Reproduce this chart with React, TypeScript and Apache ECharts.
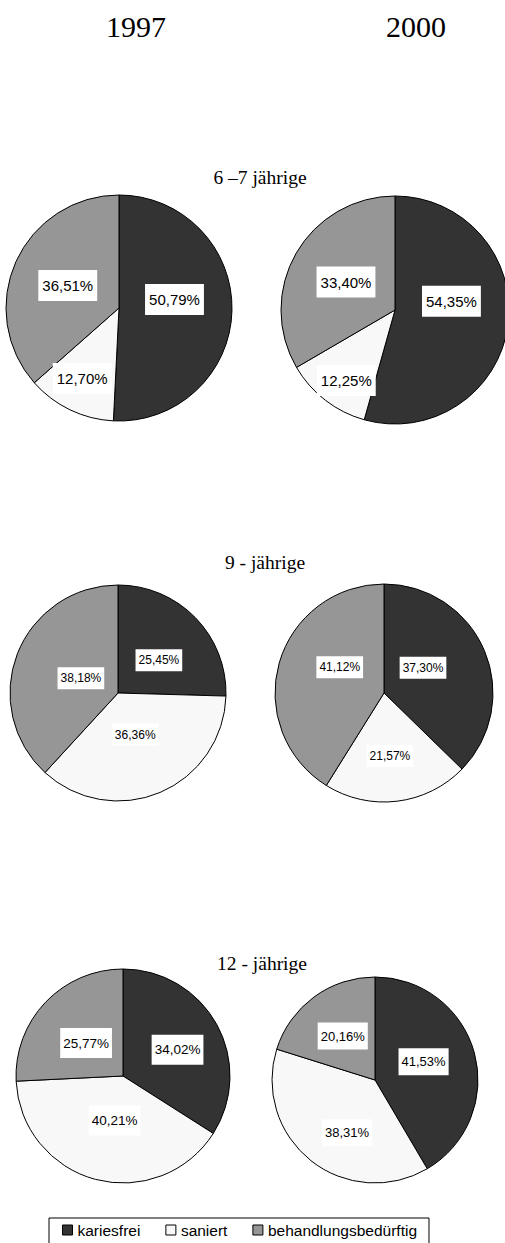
import React, { useEffect, useRef } from "react";
import * as echarts from "echarts";

const categories = ["kariesfrei", "saniert", "behandlungsbedürftig"];
const years = ["1997", "2000"];
const groups = ["6 –7 jährige", "9 - jährige", "12 - jährige"];
const values67_1997 = [50.79, 12.7, 36.51];
const values67_2000 = [54.35, 12.25, 33.4];
const values9_1997 = [25.45, 36.36, 38.18];
const values9_2000 = [37.3, 21.57, 41.12];
const values12_1997 = [34.02, 40.21, 25.77];
const values12_2000 = [41.53, 38.31, 20.16];

const colors = ["#333333", "#f8f8f8", "#969696"];
const SERIF = "'Times New Roman', 'Liberation Serif', serif";
const SANS = "Arial, 'Liberation Sans', sans-serif";

// layout: centre, radius, label font size, label padding, label nudges (dx, dy per slice)
const pieLayouts = [
  { values: values67_1997, center: [119, 308], r: 113, fs: 15, pad: [8, 4], nudge: [[-4, -10], [-11, 17], [3, 2]] },
  { values: values67_2000, center: [395, 310], r: 114, fs: 15, pad: [8, 4], nudge: [[-3, -17], [-12, 23], [3, 2]] },
  { values: values9_1997, center: [118, 693], r: 108, fs: 12, pad: [5, 3], nudge: [[0, 7], [-5, -11], [16, 6]] },
  { values: values9_2000, center: [384, 693], r: 109, fs: 12, pad: [5, 3], nudge: [[-14, -3], [-1, 6], [11, -10]] },
  { values: values12_1997, center: [123, 1076], r: 107, fs: 13.5, pad: [8, 3], nudge: [[5, 1], [6, -10], [4, 6]] },
  { values: values12_2000, center: [375, 1080], r: 103, fs: 13, pad: [7, 3], nudge: [[-4, -4], [6, 10], [0, 0]] },
];

const yearPos = [
  [136, 26],
  [416, 26],
];
const groupPos = [
  [260, 177],
  [265, 562],
  [262, 963],
];

function fmt(v: number) {
  return v.toFixed(2).replace(".", ",") + "%";
}

export default function App() {
  const ref = useRef<HTMLDivElement>(null);
  useEffect(() => {
    document.body.style.margin = "0";
    if (!ref.current) return;
    const chart = echarts.init(ref.current, undefined, { renderer: "svg" });
    const series = pieLayouts.map((p) => ({
      type: "pie",
      center: p.center,
      radius: p.r,
      startAngle: 90,
      clockwise: true,
      silent: true,
      emphasis: { disabled: true },
      itemStyle: { borderColor: "#000", borderWidth: 1 },
      label: {
        show: true,
        position: "inside",
        formatter: (d: any) => fmt(d.value),
        backgroundColor: "#ffffff",
        color: "#000",
        fontFamily: SANS,
        fontSize: p.fs,
        padding: p.pad,
      },
      labelLayout: (params: any) => {
        const n = p.nudge[params.dataIndex] || [0, 0];
        return { dx: n[0], dy: n[1] };
      },
      labelLine: { show: false },
      data: categories.map((c, i) => ({
        name: c,
        value: p.values[i],
        itemStyle: { color: colors[i] },
      })),
    }));
    const graphics: any[] = [];
    years.forEach((y, i) => {
      graphics.push({
        type: "text",
        x: yearPos[i][0],
        y: yearPos[i][1],
        style: {
          text: y,
          font: `30px ${SERIF}`,
          fill: "#000",
          textAlign: "center",
          textVerticalAlign: "middle",
        },
      });
    });
    groups.forEach((g, i) => {
      graphics.push({
        type: "text",
        x: groupPos[i][0],
        y: groupPos[i][1],
        style: {
          text: g,
          font: `19.5px ${SERIF}`,
          fill: "#000",
          textAlign: "center",
          textVerticalAlign: "middle",
        },
      });
    });
    chart.setOption({
      animation: false,
      color: colors,
      legend: {
        data: categories,
        left: 49,
        top: 1218,
        orient: "horizontal",
        padding: [4, 12, 20, 13],
        borderColor: "#000",
        borderWidth: 1,
        itemWidth: 10,
        itemHeight: 10,
        itemGap: 25,
        icon: "rect",
        selectedMode: false,
        itemStyle: { borderColor: "#000", borderWidth: 1 },
        textStyle: { fontSize: 15.5, fontFamily: SANS, color: "#000" },
      },
      graphic: graphics,
      series,
    });
    return () => chart.dispose();
  }, []);
  return <div ref={ref} style={{ width: 505, height: 1243 }} />;
}
